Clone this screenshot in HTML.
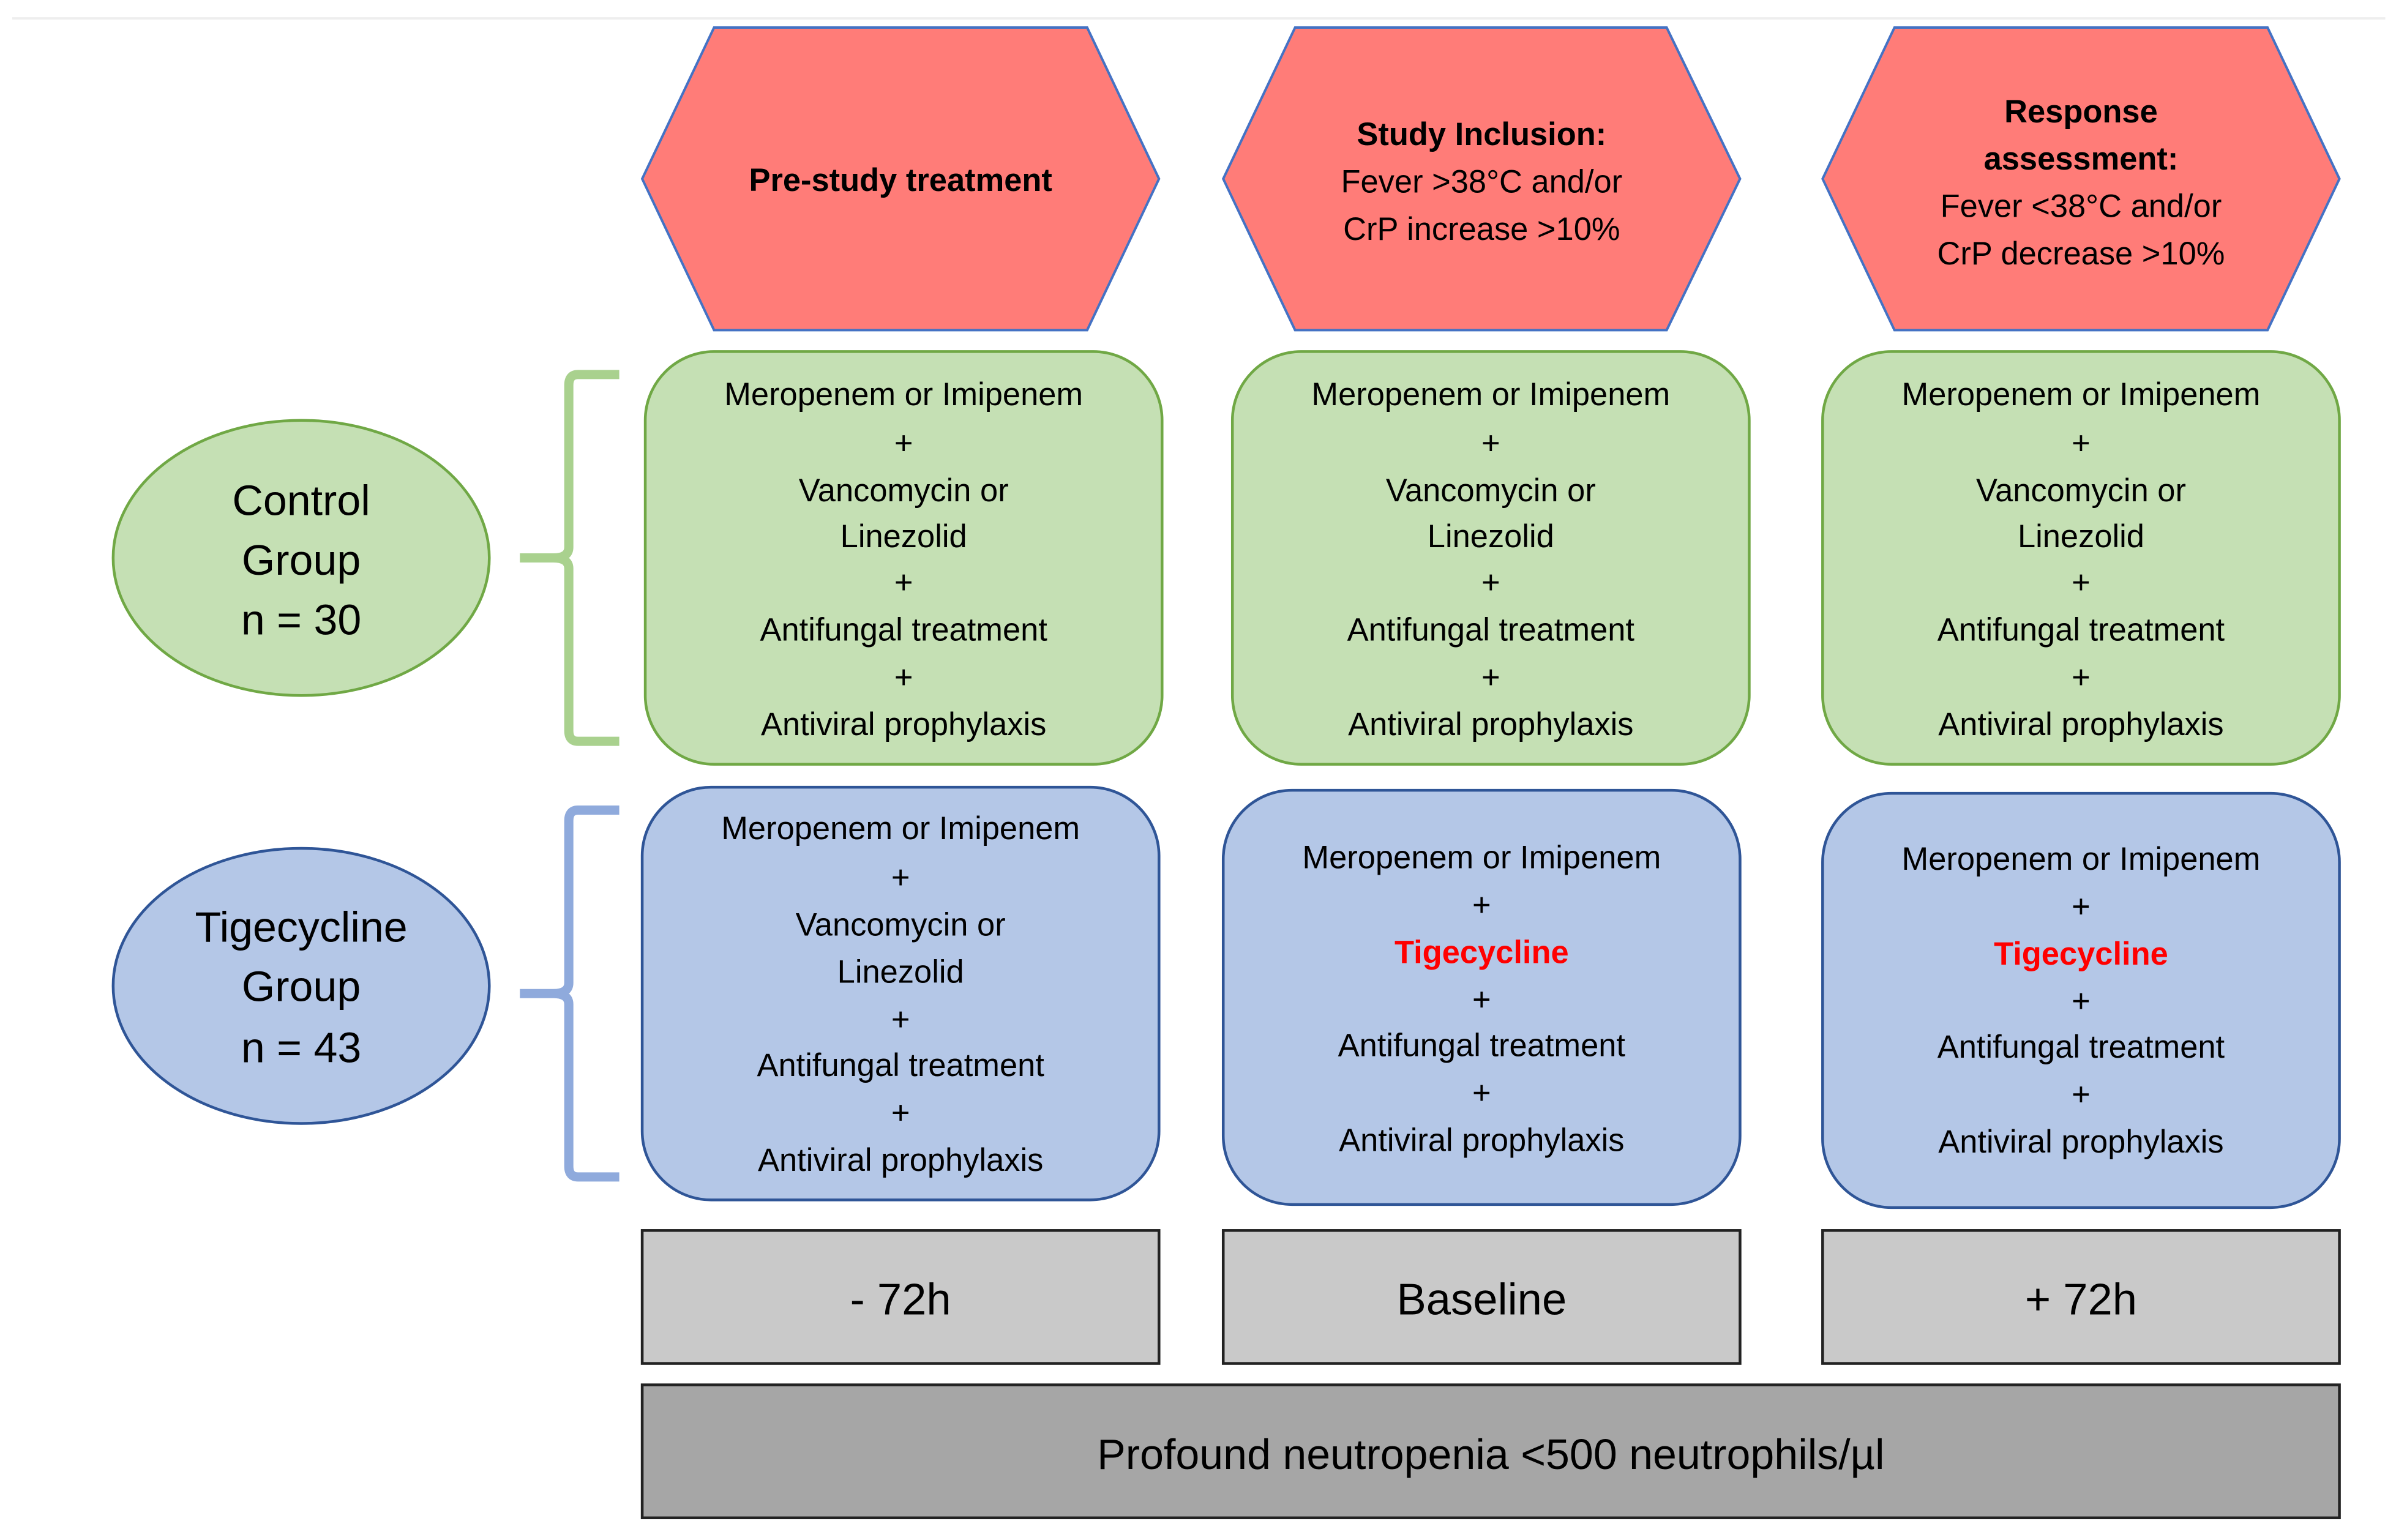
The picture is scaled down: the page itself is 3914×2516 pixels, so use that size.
<!DOCTYPE html>
<html><head><meta charset="utf-8"><style>
html,body{margin:0;padding:0;background:#fff;}
svg{display:block;}
text{font-family:"Liberation Sans",sans-serif;fill:#000;text-anchor:middle;}
</style></head><body>
<svg width="3914" height="2516" viewBox="0 0 1567 1007.5" preserveAspectRatio="none" xmlns="http://www.w3.org/2000/svg">
<line x1="8" y1="12" x2="1560" y2="12" stroke="#eee" stroke-width="1.5"/>
<g fill="#ff7c78" stroke="#4472c4" stroke-width="1.6">
<polygon points="467,18 711,18 758,117 711,216 467,216 420,117"/>
<polygon points="847,18 1090,18 1138,117 1090,216 847,216 800,117"/>
<polygon points="1239,18 1483,18 1530,117 1483,216 1239,216 1192,117"/>
</g>
<g fill="#c5e0b4" stroke="#70a845" stroke-width="1.8">
<rect x="422" y="230" width="338" height="270" rx="45"/>
<rect x="806" y="230" width="338" height="270" rx="45"/>
<rect x="1192" y="230" width="338" height="270" rx="45"/>
<ellipse cx="197" cy="365" rx="123" ry="90"/>
</g>
<g fill="#b4c7e7" stroke="#2f5597" stroke-width="1.8">
<rect x="420" y="515" width="338" height="270" rx="45"/>
<rect x="800" y="517" width="338" height="271" rx="45"/>
<rect x="1192" y="519" width="338" height="271" rx="45"/>
<ellipse cx="197" cy="645" rx="123" ry="90"/>
</g>
<g fill="#c9c9c9" stroke="#222" stroke-width="1.8">
<rect x="420" y="805" width="338" height="87"/>
<rect x="800" y="805" width="338" height="87"/>
<rect x="1192" y="805" width="338" height="87"/>
</g>
<rect x="420" y="906" width="1110" height="87" fill="#a6a6a6" stroke="#222" stroke-width="1.8"/>
<path d="M405,245 L378,245 Q372,245 372,252 L372,358 Q372,365 362,365 L340,365 M362,365 Q372,365 372,372 L372,478 Q372,485 378,485 L405,485" fill="none" stroke="#a9d18e" stroke-width="6"/>
<path d="M405,530 L378,530 Q372,530 372,537 L372,643 Q372,650 362,650 L340,650 M362,650 Q372,650 372,657 L372,763 Q372,770 378,770 L405,770" fill="none" stroke="#8faadc" stroke-width="6"/>

<g font-size="21" font-weight="bold">
<text x="589" y="125">Pre-study treatment</text>
<text x="969" y="95">Study Inclusion:</text>
<text x="1361" y="80">Response</text>
<text x="1361" y="111">assessment:</text>
</g>
<g font-size="21">
<text x="969" y="126">Fever &gt;38°C and/or</text>
<text x="969" y="157">CrP increase &gt;10%</text>
<text x="1361" y="142">Fever &lt;38°C and/or</text>
<text x="1361" y="173">CrP decrease &gt;10%</text>
</g>
<g font-size="21">
<g transform="translate(591,0)">
<text y="265">Meropenem or Imipenem</text><text y="297">+</text><text y="328">Vancomycin or</text><text y="358">Linezolid</text><text y="388">+</text><text y="419">Antifungal treatment</text><text y="450">+</text><text y="481">Antiviral prophylaxis</text>
</g>
<g transform="translate(975,0)">
<text y="265">Meropenem or Imipenem</text><text y="297">+</text><text y="328">Vancomycin or</text><text y="358">Linezolid</text><text y="388">+</text><text y="419">Antifungal treatment</text><text y="450">+</text><text y="481">Antiviral prophylaxis</text>
</g>
<g transform="translate(1361,0)">
<text y="265">Meropenem or Imipenem</text><text y="297">+</text><text y="328">Vancomycin or</text><text y="358">Linezolid</text><text y="388">+</text><text y="419">Antifungal treatment</text><text y="450">+</text><text y="481">Antiviral prophylaxis</text>
</g>
<g transform="translate(589,0)">
<text y="549">Meropenem or Imipenem</text><text y="581">+</text><text y="612">Vancomycin or</text><text y="643">Linezolid</text><text y="674">+</text><text y="704">Antifungal treatment</text><text y="735">+</text><text y="766">Antiviral prophylaxis</text>
</g>
<g transform="translate(969,0)">
<text y="568">Meropenem or Imipenem</text><text y="599">+</text><text y="630" font-weight="bold" style="fill:#ff0000">Tigecycline</text><text y="661">+</text><text y="691">Antifungal treatment</text><text y="722">+</text><text y="753">Antiviral prophylaxis</text>
</g>
<g transform="translate(1361,0)">
<text y="569">Meropenem or Imipenem</text><text y="600">+</text><text y="631" font-weight="bold" style="fill:#ff0000">Tigecycline</text><text y="662">+</text><text y="692">Antifungal treatment</text><text y="723">+</text><text y="754">Antiviral prophylaxis</text>
</g>
</g>
<g font-size="28">
<text x="197" y="337">Control</text><text x="197" y="376">Group</text><text x="197" y="415">n = 30</text>
<text x="197" y="616">Tigecycline</text><text x="197" y="655">Group</text><text x="197" y="695">n = 43</text>
</g>
<g font-size="29">
<text x="589" y="860">- 72h</text>
<text x="969" y="860">Baseline</text>
<text x="1361" y="860">+ 72h</text>
<text x="975" y="961" font-size="28">Profound neutropenia &lt;500 neutrophils/µl</text>
</g>
</svg>
</body></html>
